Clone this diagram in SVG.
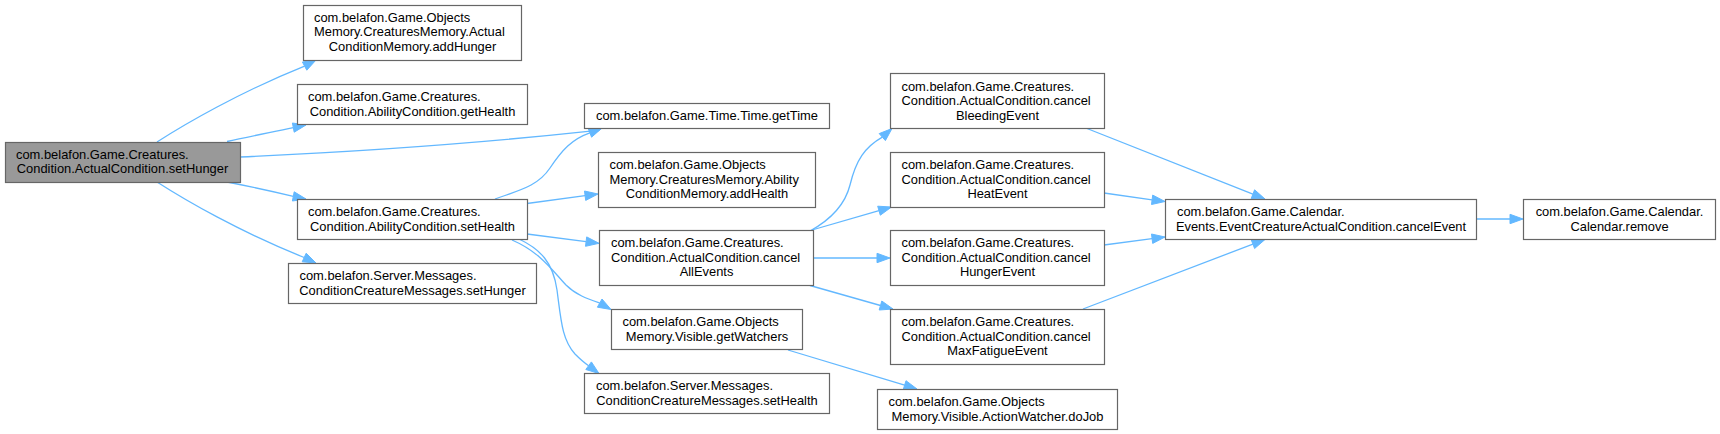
<svg xmlns="http://www.w3.org/2000/svg" width="1720" height="434" viewBox="0 0 1720 434">
<style>
  .bg { fill: #ffffff; }
  .node rect { fill: #ffffff; stroke: #666666; stroke-width: 1.2; }
  .root rect { fill: #999999; stroke: #666666; stroke-width: 1.2; }
  text { font-family: "Liberation Sans", Arial, Helvetica, sans-serif; font-size: 12.9px; fill: #000000; }
  .m { text-anchor: middle; }
  #edges path { fill: none; stroke: #63b8ff; stroke-width: 1.3; }
  #edges polygon { fill: #63b8ff; stroke: #63b8ff; stroke-width: 1; }
</style>
<rect class="bg" x="0" y="0" width="1720" height="434"/>

<g id="edges">
  <!-- setHunger -> addHunger -->
  <path d="M157,142 C185,124 240,92 304.6,66.1"/>
  <polygon points="316,60 306.8,70.2 302.4,62"/>
  <!-- setHunger -> getHealth -->
  <path d="M227,141.5 C245,137.5 265,133.5 293.3,127.6"/>
  <polygon points="306,125 294.2,132.2 292.4,123"/>
  <!-- setHunger -> getTime -->
  <path d="M240,157 C350,152 480,143 590.5,131.1"/>
  <polygon points="603,127.5 591.8,135.6 589.2,126.6"/>
  <!-- setHunger -> setHealth -->
  <path d="M227,182 C245,185.5 265,189.5 293.3,196.4"/>
  <polygon points="306,199 292.4,201 294.2,191.8"/>
  <!-- setHunger -> ConditionCreatureMessages.setHunger -->
  <path d="M157,182 C185,200 240,232 304.2,257.5"/>
  <polygon points="316,263 302.2,261.8 306.2,253.2"/>
  <!-- setHealth -> getTime -->
  <path d="M495,199 C520,190 538,186 550,168 C562,150 572,139 589.9,132.8"/>
  <polygon points="602,128 591.6,137.2 588.2,128.4"/>
  <!-- setHealth -> addHealth -->
  <path d="M527,203.5 L585.1,195.7"/>
  <polygon points="598,194 585.7,200.4 584.5,191"/>
  <!-- setHealth -> cancelAllEvents -->
  <path d="M527,234 L586.1,241.6"/>
  <polygon points="599,243.3 585.5,246.3 586.7,236.9"/>
  <!-- setHealth -> getWatchers -->
  <path d="M512,240 C540,252 552,270 566,285 C576,295 588,299 599.7,303.1"/>
  <polygon points="611,309.5 597.4,307.2 602,299"/>
  <!-- setHealth -> Server setHealth -->
  <path d="M519,239 C540,249 553,262 557,290 C561,320 562,340 575,354 C579,358 583,362 588.6,365.7"/>
  <polygon points="599,373.5 585.8,369.5 591.4,361.9"/>
  <!-- cancelAllEvents -> cancelBleedingEvent -->
  <path d="M810,231 C830,220 845,205 850,185 C856,160 865,147 882.3,137.1"/>
  <polygon points="892,128.5 885.4,140.6 879.2,133.6"/>
  <!-- cancelAllEvents -> cancelHeatEvent -->
  <path d="M812,230 L879,210.7"/>
  <polygon points="891.5,207 880.3,215.2 877.7,206.2"/>
  <!-- cancelAllEvents -> cancelHungerEvent -->
  <path d="M813,258 L877,258"/>
  <polygon points="890,258 877,262.7 877,253.3"/>
  <!-- cancelAllEvents -> cancelMaxFatigueEvent -->
  <path d="M810,285.5 L880.5,305.5"/>
  <polygon points="893,309 879.2,310 881.8,301"/>
  <!-- getWatchers -> doJob -->
  <path d="M788,350 L904.6,385.2"/>
  <polygon points="917,389 903.2,389.7 906,380.7"/>
  <!-- cancelBleedingEvent -> cancelEvent -->
  <path d="M1087,128.5 L1252.9,194.2"/>
  <polygon points="1265,199 1251.2,198.6 1254.6,189.8"/>
  <!-- cancelHeatEvent -> cancelEvent -->
  <path d="M1104,193 L1152.1,199.8"/>
  <polygon points="1165,201.5 1151.5,204.5 1152.7,195.1"/>
  <!-- cancelHungerEvent -> cancelEvent -->
  <path d="M1104,245 L1152.1,238.7"/>
  <polygon points="1165,237 1152.7,243.4 1151.5,234"/>
  <!-- cancelMaxFatigueEvent -> cancelEvent -->
  <path d="M1083,309 L1252.9,244.1"/>
  <polygon points="1265,239.5 1254.6,248.5 1251.2,239.7"/>
  <!-- cancelEvent -> remove -->
  <path d="M1476,219 L1510,219"/>
  <polygon points="1523,219 1510,223.7 1510,214.3"/>
</g>

<g id="n0" class="root">
  <rect x="5.5" y="142.5" width="235" height="40"/>
  <text x="16" y="158.5">com.belafon.Game.Creatures.</text>
  <text x="122.5" y="173" class="m">Condition.ActualCondition.setHunger</text>
</g>
<g id="n1" class="node">
  <rect x="303.5" y="5.5" width="218" height="55"/>
  <text x="314" y="21.5">com.belafon.Game.Objects</text>
  <text x="314" y="36">Memory.CreaturesMemory.Actual</text>
  <text x="412.5" y="50.5" class="m">ConditionMemory.addHunger</text>
</g>
<g id="n2" class="node">
  <rect x="297.5" y="84.5" width="230" height="40"/>
  <text x="308" y="101">com.belafon.Game.Creatures.</text>
  <text x="412.5" y="115.5" class="m">Condition.AbilityCondition.getHealth</text>
</g>
<g id="n3" class="node">
  <rect x="297.5" y="199.5" width="230" height="40"/>
  <text x="308" y="216">com.belafon.Game.Creatures.</text>
  <text x="412.5" y="230.5" class="m">Condition.AbilityCondition.setHealth</text>
</g>
<g id="n4" class="node">
  <rect x="288.5" y="263.5" width="248" height="40"/>
  <text x="299.5" y="280">com.belafon.Server.Messages.</text>
  <text x="412.5" y="294.5" class="m">ConditionCreatureMessages.setHunger</text>
</g>
<g id="n5" class="node">
  <rect x="584.5" y="103.5" width="245" height="25"/>
  <text x="707" y="120" class="m">com.belafon.Game.Time.Time.getTime</text>
</g>
<g id="n6" class="node">
  <rect x="598.5" y="152.5" width="217" height="55"/>
  <text x="609.5" y="169">com.belafon.Game.Objects</text>
  <text x="609.5" y="183.5">Memory.CreaturesMemory.Ability</text>
  <text x="707" y="198" class="m">ConditionMemory.addHealth</text>
</g>
<g id="n7" class="node">
  <rect x="599.5" y="230.5" width="214" height="55"/>
  <text x="611" y="247">com.belafon.Game.Creatures.</text>
  <text x="611" y="261.5">Condition.ActualCondition.cancel</text>
  <text x="706.5" y="276" class="m">AllEvents</text>
</g>
<g id="n8" class="node">
  <rect x="611.5" y="309.5" width="191" height="40"/>
  <text x="622.5" y="326">com.belafon.Game.Objects</text>
  <text x="707" y="340.5" class="m">Memory.Visible.getWatchers</text>
</g>
<g id="n9" class="node">
  <rect x="584.5" y="373.5" width="245" height="40"/>
  <text x="596" y="390">com.belafon.Server.Messages.</text>
  <text x="707" y="404.5" class="m">ConditionCreatureMessages.setHealth</text>
</g>
<g id="n10" class="node">
  <rect x="890.5" y="73.5" width="214" height="55"/>
  <text x="901.5" y="90.5">com.belafon.Game.Creatures.</text>
  <text x="901.5" y="105">Condition.ActualCondition.cancel</text>
  <text x="997.5" y="119.5" class="m">BleedingEvent</text>
</g>
<g id="n11" class="node">
  <rect x="890.5" y="152.5" width="214" height="55"/>
  <text x="901.5" y="169">com.belafon.Game.Creatures.</text>
  <text x="901.5" y="183.5">Condition.ActualCondition.cancel</text>
  <text x="997.5" y="198" class="m">HeatEvent</text>
</g>
<g id="n12" class="node">
  <rect x="890.5" y="230.5" width="214" height="55"/>
  <text x="901.5" y="247">com.belafon.Game.Creatures.</text>
  <text x="901.5" y="261.5">Condition.ActualCondition.cancel</text>
  <text x="997.5" y="276" class="m">HungerEvent</text>
</g>
<g id="n13" class="node">
  <rect x="890.5" y="309.5" width="214" height="55"/>
  <text x="901.5" y="326">com.belafon.Game.Creatures.</text>
  <text x="901.5" y="340.5">Condition.ActualCondition.cancel</text>
  <text x="997.5" y="355" class="m">MaxFatigueEvent</text>
</g>
<g id="n14" class="node">
  <rect x="877.5" y="389.5" width="240" height="40"/>
  <text x="888.5" y="406">com.belafon.Game.Objects</text>
  <text x="997.5" y="420.5" class="m">Memory.Visible.ActionWatcher.doJob</text>
</g>
<g id="n15" class="node">
  <rect x="1165.5" y="199.5" width="311" height="40"/>
  <text x="1177" y="216">com.belafon.Game.Calendar.</text>
  <text x="1321" y="230.5" class="m">Events.EventCreatureActualCondition.cancelEvent</text>
</g>
<g id="n16" class="node">
  <rect x="1523.5" y="199.5" width="192" height="40"/>
  <text x="1619.5" y="216" class="m">com.belafon.Game.Calendar.</text>
  <text x="1619.5" y="230.5" class="m">Calendar.remove</text>
</g>
</svg>
